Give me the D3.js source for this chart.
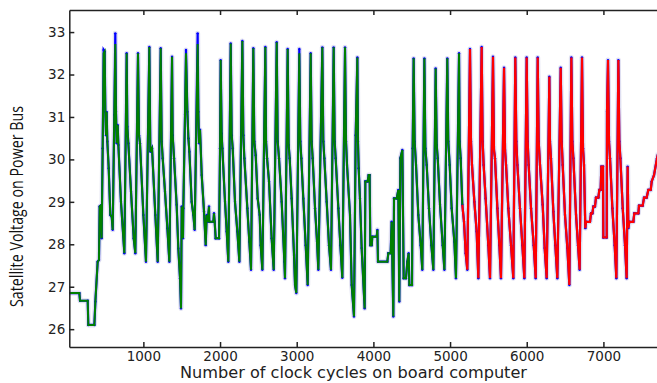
<!DOCTYPE html>
<html>
<head>
<meta charset="utf-8">
<script src="https://cdn.jsdelivr.net/npm/d3@7/dist/d3.min.js"></script>
<style>
  body { margin: 0; background: #fff; }
  svg { display: block; }
  .tick text { font-family: "DejaVu Sans", sans-serif; font-size: 13.5px; fill: #222; }
  .tick line, .domain { stroke: #222; stroke-width: 1.5; }
</style>
</head>
<body>
<svg id="chart" width="657" height="383"></svg>
<script>
// clock cycle of each vertex
const cycles = [
  35, 165, 174, 274, 282, 361, 374, 404, 421, 430, 443, 456, 469, 482, 495, 504, 513, 521, 530, 548,
  569, 587, 600, 621, 634, 643, 652, 665, 674, 708, 752, 782, 791, 804, 839, 874, 895, 930, 943, 956,
  1000, 1034, 1078, 1091, 1113, 1156, 1187, 1226, 1239, 1252, 1282, 1313, 1339, 1374, 1382, 1400, 1434, 1456, 1478, 1491,
  1500, 1508, 1517, 1521, 1543, 1556, 1574, 1587, 1600, 1630, 1652, 1669, 1708, 1717, 1726, 1739, 1761, 1791, 1813, 1826,
  1839, 1856, 1860, 1913, 1921, 1930, 1943, 1987, 2000, 2008, 2021, 2030, 2065, 2087, 2108, 2139, 2152, 2165, 2195, 2226,
  2252, 2291, 2304, 2317, 2356, 2382, 2404, 2434, 2447, 2465, 2491, 2517, 2530, 2552, 2591, 2600, 2613, 2639, 2673, 2700,
  2739, 2752, 2769, 2804, 2839, 2847, 2882, 2895, 2908, 2934, 2965, 2978, 2995, 3034, 3047, 3060, 3086, 3117, 3143, 3182,
  3195, 3208, 3239, 3265, 3282, 3334, 3347, 3360, 3391, 3421, 3447, 3482, 3495, 3508, 3543, 3569, 3595, 3630, 3643, 3656,
  3695, 3717, 3747, 3769, 3791, 3799, 3808, 3825, 3847, 3886, 3895, 3925, 3938, 3951, 3960, 3978, 3986, 4043, 4052, 4060,
  4182, 4195, 4225, 4238, 4260, 4269, 4304, 4325, 4338, 4352, 4378, 4395, 4425, 4443, 4460, 4469, 4504, 4512, 4525, 4538,
  4556, 4586, 4617, 4638, 4665, 4678, 4695, 4725, 4756, 4782, 4812, 4826, 4839, 4869, 4904, 4926, 4964, 4977, 4995, 5021,
  5056, 5077, 5117, 5125, 5138, 5160, 5182, 5204, 5225, 5260, 5273, 5286, 5317, 5347, 5369, 5412, 5425, 5438, 5464, 5499,
  5521, 5560, 5573, 5586, 5617, 5643, 5664, 5704, 5717, 5730, 5760, 5795, 5825, 5851, 5864, 5878, 5912, 5943, 5969, 5999,
  6012, 6025, 6056, 6091, 6117, 6143, 6156, 6173, 6208, 6234, 6260, 6295, 6303, 6316, 6347, 6373, 6399, 6443, 6456, 6469,
  6499, 6530, 6556, 6582, 6595, 6608, 6643, 6669, 6690, 6721, 6734, 6747, 6764, 6773, 6825, 6838, 6856, 6869, 6890, 6903,
  6934, 6947, 6964, 6973, 6995, 6999, 7043, 7047, 7060, 7073, 7086, 7117, 7147, 7169, 7195, 7208, 7221, 7252, 7282, 7303,
  7316, 7325, 7338, 7390, 7403, 7456, 7464, 7512, 7530, 7564, 7586, 7617, 7630, 7660, 7699, 7715
];
// bus voltage at each vertex
const voltage = [
  26.85, 26.85, 26.67, 26.67, 26.10, 26.10, 26.65, 27.59, 27.63, 28.89, 28.91, 28.14, 30.26, 32.58, 32.54, 31.12, 30.57, 31.12, 30.42, 29.79,
  28.69, 28.65, 28.34, 31.05, 32.97, 31.12, 30.38, 30.81, 30.34, 29.00, 27.79, 32.50, 30.77, 30.38, 29.24, 28.14, 27.79, 32.50, 30.57, 30.38,
  28.69, 27.59, 32.65, 30.18, 30.26, 28.69, 27.59, 32.62, 30.42, 30.03, 29.24, 28.38, 27.59, 32.42, 30.57, 30.03, 28.93, 27.90, 27.20, 26.49,
  28.89, 28.69, 28.14, 28.85, 31.05, 32.58, 31.12, 30.50, 30.18, 29.00, 28.69, 28.34, 32.97, 31.12, 30.38, 30.70, 29.63, 28.77, 27.98, 28.69,
  28.53, 28.89, 28.53, 28.53, 28.73, 28.53, 28.14, 28.14, 30.26, 32.34, 30.61, 30.26, 29.00, 28.30, 27.59, 32.73, 30.57, 30.26, 29.00, 28.30,
  27.59, 32.79, 30.57, 30.03, 28.85, 28.06, 27.40, 32.62, 30.42, 30.10, 29.08, 28.69, 27.98, 27.40, 32.65, 30.42, 30.03, 29.48, 28.14, 27.40,
  32.76, 30.42, 30.03, 29.00, 27.59, 27.20, 32.60, 30.34, 30.03, 29.08, 27.75, 27.04, 26.85, 32.60, 30.42, 30.03, 29.08, 27.98, 27.04, 32.50,
  30.42, 30.03, 28.85, 28.06, 27.40, 32.64, 30.42, 30.03, 29.00, 27.98, 27.40, 32.64, 30.42, 30.03, 28.85, 27.98, 27.21, 32.64, 30.42, 29.87,
  28.69, 27.04, 26.30, 30.57, 32.40, 30.42, 29.79, 29.08, 27.91, 26.49, 29.48, 29.48, 29.63, 29.63, 27.98, 27.98, 28.18, 28.18, 28.34, 27.59,
  27.59, 27.79, 27.79, 28.53, 26.30, 29.08, 29.08, 29.28, 26.65, 30.03, 30.22, 27.20, 27.20, 27.59, 27.79, 27.04, 27.04, 30.26, 32.38, 30.42,
  29.87, 28.69, 27.98, 27.40, 32.38, 30.26, 29.87, 28.85, 27.98, 27.40, 32.14, 30.34, 30.03, 28.93, 27.98, 27.40, 32.38, 30.42, 29.87, 28.85,
  28.06, 27.20, 32.50, 30.42, 30.03, 28.93, 28.53, 27.79, 27.40, 32.60, 30.42, 29.87, 29.00, 28.30, 27.20, 32.65, 30.42, 29.87, 29.08, 27.98,
  27.20, 32.42, 30.22, 30.03, 28.85, 27.98, 27.20, 32.16, 30.22, 29.87, 28.85, 27.98, 27.20, 32.40, 30.42, 29.87, 28.85, 27.98, 27.20, 32.40,
  30.42, 29.87, 28.85, 27.98, 27.20, 32.40, 30.42, 29.87, 28.93, 27.91, 27.20, 31.95, 30.42, 30.03, 28.77, 27.98, 27.20, 32.16, 30.42, 29.87,
  28.69, 27.91, 27.04, 32.40, 30.42, 30.03, 28.69, 27.98, 27.40, 32.40, 30.26, 29.87, 28.38, 28.53, 28.53, 28.73, 28.73, 28.89, 28.89, 29.10,
  29.10, 29.28, 29.28, 29.83, 29.83, 28.16, 28.16, 31.12, 32.34, 30.42, 30.03, 28.85, 27.98, 27.20, 32.34, 30.42, 30.03, 28.85, 27.98, 27.20,
  29.83, 28.38, 28.53, 28.53, 28.73, 28.73, 28.91, 28.91, 29.10, 29.10, 29.28, 29.28, 29.48, 29.63, 30.03, 30.15
];
// peaks where the green trace stops below the blue one
const greenPeakCycles = [482, 634, 1556, 1708, 3034];
const greenPeakValues = [32.50, 32.72, 32.50, 32.72, 32.50];
const splitCycle = 5160; // green before, red after

const xTicks = [1000, 2000, 3000, 4000, 5000, 6000, 7000];
const yTicks = [26, 27, 28, 29, 30, 31, 32, 33];

const svg = d3.select('svg#chart');
const margin = { top: 10, right: -1, bottom: 36, left: 69.3 };
const width = +svg.attr('width') - margin.left - margin.right;
const height = +svg.attr('height') - margin.top - margin.bottom;

const g = svg.append('g').attr('transform', `translate(${margin.left},${margin.top})`);

const xScale = d3.scaleLinear().domain([34, 7712]).range([0, width]);
const yScale = d3.scaleLinear().domain([25.58, 33.52]).range([height, 0]);

g.append('clipPath').attr('id', 'plotclip')
  .append('rect').attr('width', width).attr('height', height);

const points = cycles.map((c, i) => ({ x: c, y: voltage[i] }));
const greenPts = points.filter(d => d.x <= splitCycle).map(d => {
  const k = greenPeakCycles.indexOf(d.x);
  return k >= 0 ? { x: d.x, y: greenPeakValues[k] } : d;
});
const redPts = points.filter(d => d.x >= splitCycle);

const line = d3.line().x(d => xScale(d.x)).y(d => yScale(d.y));
const plot = g.append('g').attr('clip-path', 'url(#plotclip)');

// soft halo like the blurred original
plot.append('path').datum(points).attr('d', line)
  .attr('fill', 'none').attr('stroke', '#8080c8').attr('stroke-opacity', 0.25)
  .attr('stroke-width', 5).attr('stroke-linejoin', 'round');
plot.append('path').datum(points).attr('d', line)
  .attr('fill', 'none').attr('stroke', '#0000ff').attr('stroke-width', 2.2);
plot.selectAll('circle.dot').data(points).enter().append('circle')
  .attr('class', 'dot')
  .attr('cx', d => xScale(d.x)).attr('cy', d => yScale(d.y))
  .attr('r', 1.2).attr('fill', '#0000ff');
plot.append('path').datum(greenPts).attr('d', line)
  .attr('fill', 'none').attr('stroke', '#008000').attr('stroke-width', 2);
plot.append('path').datum(redPts).attr('d', line)
  .attr('fill', 'none').attr('stroke', '#ff0000').attr('stroke-width', 2.2);

// axes, ticks pointing inward
g.append('g')
  .attr('transform', `translate(0,${height})`)
  .call(d3.axisBottom(xScale).tickValues(xTicks).tickSize(-5).tickSizeOuter(0).tickPadding(4).tickFormat(d3.format('d')));
g.append('g')
  .call(d3.axisTop(xScale).tickValues(xTicks).tickSize(-5).tickSizeOuter(0).tickFormat(''));
g.append('g')
  .call(d3.axisLeft(yScale).tickValues(yTicks).tickSize(-5).tickSizeOuter(0).tickPadding(4));

svg.append('text')
  .attr('x', 180).attr('y', 378)
  .attr('textLength', 347).attr('lengthAdjust', 'spacingAndGlyphs')
  .style('font-family', 'DejaVu Sans, sans-serif').style('font-size', '15px').style('fill', '#222')
  .text('Number of clock cycles on board computer');

svg.append('text')
  .attr('transform', 'translate(23,307) rotate(-90)')
  .attr('textLength', 201).attr('lengthAdjust', 'spacingAndGlyphs')
  .style('font-family', 'Open Sans, sans-serif').style('font-size', '19px').style('fill', '#111')
  .text('Satellite Voltage on Power Bus');
</script>
</body>
</html>
